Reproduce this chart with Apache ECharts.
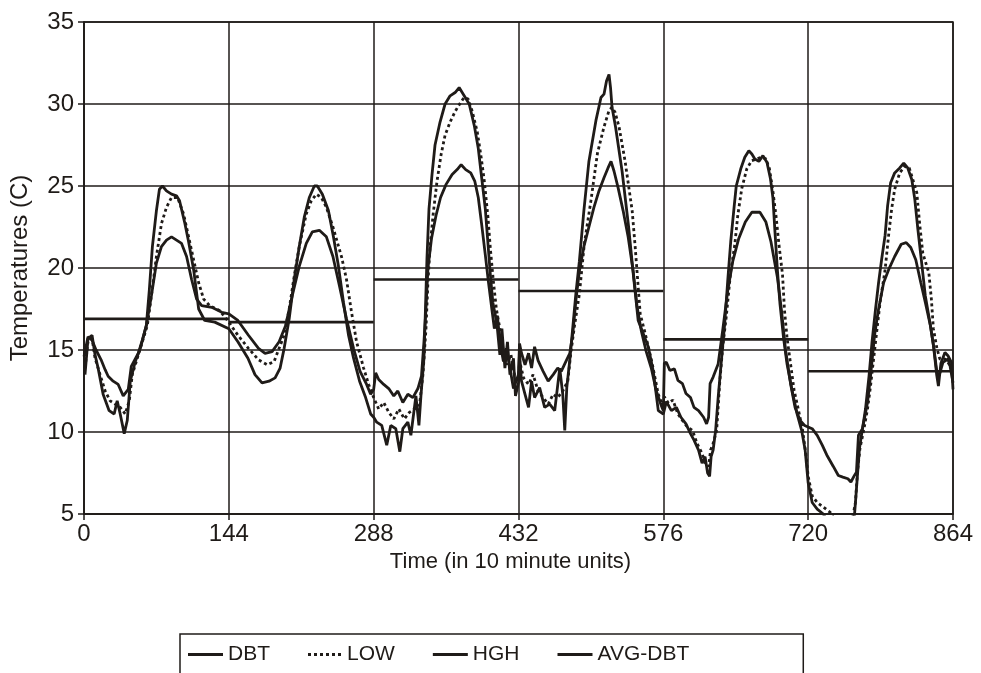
<!DOCTYPE html>
<html>
<head>
<meta charset="utf-8">
<script src="https://cdn.jsdelivr.net/npm/echarts@6/dist/echarts.min.js"></script>
<style>
html,body{margin:0;padding:0;background:#fff;}
#chart{width:981px;height:673px;}
</style>
</head>
<body>
<div id="chart"></div>
<script>
// ---- data (time in 10-minute units, temperature in C) ----
const xTicks = [0, 144, 288, 432, 576, 720, 864];
const yTicks = [5, 10, 15, 20, 25, 30, 35];
const seriesNames = ['DBT', 'LOW', 'HGH', 'AVG-DBT'];

const dbt = [
  [1,13.5],[4,15.7],[8,15.9],[11,14.7],[14,13.9],[19,12.3],[25,11.3],[30,11.1],[33,11.9],[36,11.1],[40,9.9],[43,10.7],[46,13.1],[51,14.3],[56,15.1],[62,16.5],[65,18.7],[68,21.3],[72,23.5],[75,24.8],[78,25.0],[82,24.7],[87,24.5],[92,24.4],[95,24.1],[100,22.8],[104,21.6],[109,19.9],[114,17.5],[120,16.8],[130,16.7],[144,16.3],
  [153,15.5],[163,14.5],[170,13.5],[177,13.0],[184,13.1],[190,13.3],[195,13.9],[199,15.1],[204,16.9],[209,19.3],[214,21.3],[219,23.1],[224,24.3],[229,25.0],[232,25.0],[237,24.5],[243,23.5],[248,21.9],[253,20.1],[258,17.9],[263,15.9],[268,14.5],[274,13.1],[280,12.1],[285,11.1],[288,10.9],
  [291,10.6],[296,10.4],[301,9.2],[305,10.4],[310,10.2],[314,8.8],[317,10.2],[322,10.6],[325,9.8],[330,12.2],[333,10.4],[335,12.2],[338,14.5],[339.5,17.5],[341,20.6],[343,23.6],[346,25.7],[349,27.5],[354,28.9],[359,30.0],[364,30.5],[369,30.7],[373,31.0],[378,30.5],[383,30.0],[388,28.7],[392,27.3],[395,25.7],[399,23.6],[401.5,21.6],[404,19.6],[406.5,17.9],[409,17.1],[411,16.3],[413.5,14.7],[415.5,16.3],[418.5,13.9],[421,15.5],[423.5,13.5],[427,14.5],[429,12.2],[432,13.0],
  [433,14.8],[435,13.1],[438.5,12.3],[442,11.5],[445,13.1],[448,12.1],[453,12.7],[458,11.5],[463,11.7],[468,11.3],[473,13.9],[476,12.3],[478,10.1],[480,12.7],[483,14.4],[486,16.4],[489,18.4],[492.5,20.4],[497,23.5],[502,26.5],[509,29.0],[514,30.4],[517,30.6],[519.5,31.4],[522,31.8],[523.5,31.0],[525,29.8],[528.5,28.6],[535,25.9],[541.5,22.5],[546.5,19.4],[551,16.8],[556,16.0],[561,15.2],[566,13.7],[571,11.3],[576,11.1],
  [579,11.85],[584,11.3],[589,11.5],[593.5,10.9],[598.5,10.5],[603,9.9],[606.5,9.5],[611,8.9],[614.5,8.1],[617.5,8.5],[620,7.5],[622,7.3],[623.5,8.5],[625.5,8.9],[628,10.1],[630.5,12.1],[633.5,14.2],[637,16.6],[640,19.2],[643,21.6],[646.5,23.8],[648.5,25.0],[653,26.05],[657,26.75],[661,27.15],[664,26.95],[667,26.65],[671,26.5],[675,26.85],[679,26.45],[682.5,25.45],[685,24.25],[687,22.2],[689.5,19.8],[692,17.8],[695.5,15.75],[699,14.15],[704,12.55],[709,11.1],[713.5,10.1],[717,8.9],[720,6.9],
  [724,5.7],[729,5.3],[735,5.0],[740,4.5],[745,4.1],[755,3.9],[763,4.1],[766,4.9],[767.5,6.1],[769,7.35],[771,9.0],[774,10.2],[777,11.4],[780.5,13.4],[783.5,15.5],[787,17.5],[790,19.1],[793,20.5],[796.5,22.0],[799,23.8],[802,25.2],[806,25.8],[811,26.1],[815,26.4],[819,26.1],[823,25.4],[826,24.2],[829,22.4],[832.5,20.5],[836.5,18.3],[841,16.7],[844.5,15.3],[848,13.4],[849.5,12.8],[852,14.2],[856,14.85],[859,14.65],[862.5,14.25],[864,12.6]
];

const low = [
  [1,13.9],[4,15.5],[8,15.7],[11,14.5],[16,13.5],[21,12.5],[26,11.9],[31,11.7],[36,11.5],[41,11.1],[45,11.9],[48,13.5],[53,14.5],[58,15.5],[63,16.5],[67,18.3],[72,20.7],[77,22.7],[82,23.7],[87,24.3],[93,24.3],[99,23.3],[104,21.9],[109,20.5],[114,19.1],[119,18.1],[125,17.7],[135,17.4],[144,16.7],
  [153,15.9],[163.5,15.1],[173.5,14.4],[182,14.1],[189,14.3],[194,15.1],[199,15.9],[204,17.5],[209,19.5],[214,21.3],[221,23.3],[226,24.1],[231,24.5],[236,24.3],[241,23.7],[247.5,22.5],[256,20.7],[261,19.3],[266,17.3],[271,15.5],[278,13.9],[283,12.9],[288,12.1],
  [293,11.4],[298,11.8],[303,11.2],[308,10.8],[313,11.4],[318.5,10.8],[323.5,11.2],[328.5,11.4],[333.5,11.6],[337,13.5],[340,16.3],[342,19.2],[344,21.2],[347,23.2],[351,25.3],[355,26.9],[359,28.1],[364,28.9],[369,29.55],[374,30.05],[378,30.4],[382,30.3],[386,29.55],[391,28.3],[395,26.7],[398,25.3],[401.5,23.2],[404,21.2],[407,19.2],[410,17.5],[413.5,16.3],[416.5,15.1],[420,14.1],[424.5,14.7],[428,13.5],[432,13.05],
  [433,14.35],[437,13.3],[442,12.9],[446.5,13.5],[451.5,12.5],[456.5,12.1],[461.5,11.7],[466.5,12.3],[471,12.1],[476,12.5],[481,13.1],[484,14.8],[487.5,16.4],[492.5,18.4],[497.5,21.5],[504,24.1],[510.5,27.0],[517,28.6],[522,29.6],[525,29.8],[528,29.5],[532,28.6],[538,26.5],[545,23.5],[548,21.3],[553,17.2],[558,16.0],[564.5,14.3],[571,12.3],[576,11.5],
  [577,12.15],[581,11.75],[585.5,11.95],[590.5,11.1],[595,10.7],[600,10.3],[605,10.1],[609.5,9.3],[614.5,8.7],[617.5,8.1],[621,7.9],[623,8.9],[625.5,9.3],[629,10.1],[632,12.95],[635,15.15],[638.5,17.0],[643,19.8],[647,21.4],[650,23.2],[654,24.85],[659,26.05],[664,26.55],[669,26.65],[673.5,26.75],[678,26.65],[681.5,26.05],[685,24.65],[688,23.2],[691,21.4],[694.5,19.6],[696.5,17.4],[699,15.75],[702.5,14.15],[706,12.55],[710.5,11.3],[714.5,10.1],[718,8.5],[720,7.3],
  [724,6.1],[729,5.7],[735.5,5.4],[742,5.1],[748,4.5],[758,4.3],[764,4.7],[767,5.7],[769,7.55],[771.5,9.0],[775.5,10.2],[779,11.4],[782,12.8],[787,15.5],[791.5,17.9],[796.5,19.9],[800,22.0],[803,23.6],[806,24.8],[811,25.8],[816,26.2],[820.5,26.1],[824,25.4],[828,24.6],[831,22.6],[834,20.9],[840,19.7],[842.5,18.1],[844.5,16.3],[848,15.1],[851,14.45],[856,14.45],[860,14.15],[864,13.6]
];

const hgh = [
  [0,14.6],[4,15.8],[8,15.6],[12,15.0],[17,14.4],[21,13.8],[24,13.4],[29,13.1],[34,12.9],[39,12.2],[44,12.6],[47,14.0],[54,14.8],[58,15.6],[62,16.5],[67,18.3],[72,20.3],[77,21.3],[82,21.7],[87,21.9],[92,21.7],[97,21.5],[102,20.7],[107,19.3],[112,18.1],[117,17.7],[127,17.6],[137,17.3],[144,17.2],
  [153,16.8],[163.5,15.9],[173.5,15.1],[180,14.8],[187,14.9],[194,15.5],[200.5,16.5],[207,18.3],[214,20.1],[221,21.5],[227,22.2],[234,22.3],[241,21.9],[247.5,20.7],[254,18.9],[261,16.9],[268,15.1],[274.5,13.7],[281,12.9],[285,12.3],[288,12.6],
  [290,13.6],[293,13.2],[298,12.9],[303,12.65],[308,12.2],[312,12.5],[317,11.8],[322,12.3],[327,12.1],[332,12.65],[335.5,13.4],[338,15.5],[340,17.5],[342,20.0],[345.5,21.8],[350,23.2],[354.5,24.3],[360,25.1],[366,25.7],[371,26.0],[375,26.3],[379.5,26.0],[384.5,25.8],[388.5,25.3],[392,24.3],[395.5,22.6],[399,20.8],[402,19.2],[405.5,17.5],[408,16.3],[411,17.1],[413.5,15.5],[417,14.3],[420,15.1],[423.5,13.9],[427,12.65],[432,13.5],
  [433,15.4],[435,14.8],[438.5,14.1],[442,14.8],[445,13.9],[448,15.2],[451.5,14.35],[456.5,13.7],[461.5,13.1],[466.5,13.5],[471,13.9],[474.5,13.7],[479.5,14.35],[483,14.8],[486,16.0],[489,18.0],[492.5,19.8],[497,21.3],[502,22.5],[507,23.7],[512,24.7],[517,25.5],[521,26.1],[524,26.5],[527,25.9],[531,24.9],[536,23.5],[541,21.9],[546,19.8],[550,17.6],[554,16.2],[559,14.9],[564,13.9],[569,12.5],[574,11.6],[576,11.3],
  [577,14.2],[579,14.25],[582.5,13.75],[587,13.85],[590.5,13.15],[595,12.95],[598.5,12.35],[603,12.1],[606.5,11.5],[611,11.3],[616,10.9],[619,10.5],[621,10.9],[622.5,12.95],[625.5,13.35],[630.5,14.15],[635,16.2],[640,18.6],[645,20.4],[651,21.8],[657.5,22.8],[664,23.4],[672,23.4],[678,22.8],[683,21.6],[689.5,19.4],[693.5,17.4],[697.5,15.0],[702.5,12.95],[707,11.5],[712,10.7],[716.5,10.4],[720,10.3],
  [724,10.2],[729,9.8],[734,9.2],[738.5,8.6],[745,7.9],[750,7.35],[754.5,7.25],[759.5,7.15],[762.5,6.95],[766,7.35],[768,7.55],[770,9.8],[774,10.2],[779,11.8],[782,13.4],[786,15.9],[790,17.5],[795,19.1],[800,19.9],[806,20.7],[812.5,21.45],[817.5,21.55],[822,21.25],[827,20.5],[832,19.1],[836.5,17.9],[841.5,16.5],[845,15.1],[848.5,13.4],[851,13.6],[854,14.25],[859,14.45],[861,14.05],[864,13.0]
];

// daily averages of DBT, one per day (day = 144 ten-minute units)
const avgDbt = [16.9, 16.7, 19.3, 18.6, 15.65, 13.7];

// ---- build ----
const ink = '#1f1b18';
const font = '"Liberation Sans", Arial, Helvetica, sans-serif';

const avgData = [];
avgDbt.forEach((v, i) => {
  avgData.push([xTicks[i], v]);
  avgData.push([xTicks[i + 1], v]);
  if (i < avgDbt.length - 1) avgData.push([xTicks[i + 1], '-']);
});

const solidIcon = 'path://M0,0H35V3H0Z';
const dottedIcon = 'path://M0,0h3v3h-3z M6,0h3v3h-3z M12,0h3v3h-3z M18,0h3v3h-3z M24,0h3v3h-3z M30,0h3v3h-3z';

const chart = echarts.init(document.getElementById('chart'), null, {renderer: 'canvas'});

const lineBase = {
  type: 'line', showSymbol: false, symbol: 'none', smooth: false, clip: true,
  animation: false
};

chart.setOption({
  animation: false,
  backgroundColor: '#ffffff',
  textStyle: {fontFamily: font, color: ink},
  grid: {
    left: 83, right: 28, top: 22, bottom: 159,
    show: true, borderColor: ink, borderWidth: 1.5
  },
  xAxis: {
    type: 'value', min: xTicks[0], max: xTicks[xTicks.length - 1], interval: 144,
    name: 'Time (in 10 minute units)', nameLocation: 'middle', nameGap: 36,
    nameTextStyle: {fontSize: 22, color: ink, fontFamily: font, padding: [0, 16, 0, 0]},
    axisLine: {show: true, lineStyle: {color: ink, width: 1.5}},
    axisTick: {show: true, length: 6, lineStyle: {color: ink, width: 1.5}},
    axisLabel: {fontSize: 24, color: ink, margin: 8, fontFamily: font},
    splitLine: {show: true, lineStyle: {color: ink, width: 1.5}}
  },
  yAxis: {
    type: 'value', min: yTicks[0], max: yTicks[yTicks.length - 1], interval: 5,
    name: 'Temperatures (C)', nameLocation: 'middle', nameGap: 52,
    nameTextStyle: {fontSize: 24, color: ink, fontFamily: font},
    axisLine: {show: true, lineStyle: {color: ink, width: 1.5}},
    axisTick: {show: true, length: 6, lineStyle: {color: ink, width: 1.5}},
    axisLabel: {fontSize: 24, color: ink, margin: 10, fontFamily: font},
    splitLine: {show: true, lineStyle: {color: ink, width: 1.5}}
  },
  legend: {
    data: [
      {name: seriesNames[0], icon: solidIcon},
      {name: seriesNames[1], icon: dottedIcon},
      {name: seriesNames[2], icon: solidIcon},
      {name: seriesNames[3], icon: solidIcon}
    ],
    left: 180, top: 634,
    orient: 'horizontal',
    itemWidth: 35, itemHeight: 3, itemGap: 38,
    padding: [10, 114, 14, 8],
    borderColor: ink, borderWidth: 1.5,
    itemStyle: {color: ink, borderWidth: 0},
    textStyle: {fontSize: 21, color: ink, fontFamily: font}
  },
  series: [
    Object.assign({}, lineBase, {name: seriesNames[0], data: dbt, z: 4,
      lineStyle: {color: ink, width: 2.8}, itemStyle: {color: ink}}),
    Object.assign({}, lineBase, {name: seriesNames[1], data: low, z: 3,
      lineStyle: {color: ink, width: 2.8, type: [3, 3]}, itemStyle: {color: ink}}),
    Object.assign({}, lineBase, {name: seriesNames[2], data: hgh, z: 3,
      lineStyle: {color: ink, width: 2.8}, itemStyle: {color: ink}}),
    Object.assign({}, lineBase, {name: seriesNames[3], data: avgData, z: 2,
      connectNulls: false,
      lineStyle: {color: ink, width: 2.6}, itemStyle: {color: ink}})
  ]
});
</script>
</body>
</html>
